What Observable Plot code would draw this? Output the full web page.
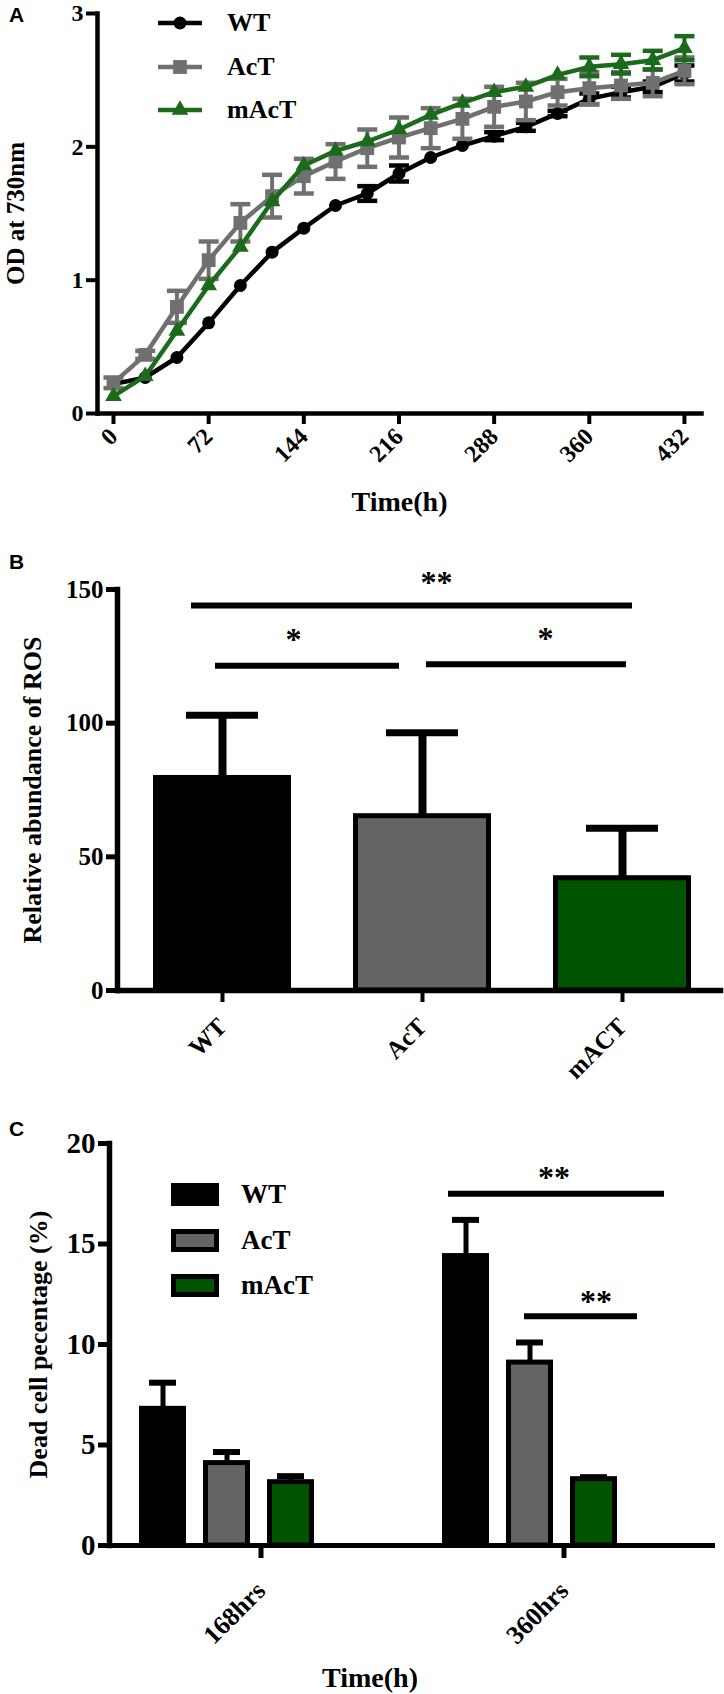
<!DOCTYPE html>
<html>
<head>
<meta charset="utf-8">
<script src="https://cdn.jsdelivr.net/npm/d3@7"></script>
<script src="https://cdn.jsdelivr.net/npm/@observablehq/plot@0.6"></script>
<style>
  body { margin: 0; background: #fff; }
  #fig { position: relative; width: 724px; height: 1694px; font-family: "Liberation Serif", "Times New Roman", serif; font-weight: bold; color: #000; }
  .panel { position: absolute; left: 0; }
  .tag { position: absolute; font-family: "Liberation Sans", Arial, sans-serif; font-weight: bold; font-size: 21px; line-height: 1; }
  .leg { position: absolute; white-space: nowrap; }
</style>
</head>
<body>
<div id="fig"></div>
<script>
// ---- panel A: growth curves (OD730) ----
const hours = [0, 24, 48, 72, 96, 120, 144, 168, 192, 216, 240, 264, 288, 312, 336, 360, 384, 408, 432];
const hourTicks = [0, 72, 144, 216, 288, 360, 432];
const strains = ["WT", "AcT", "mAcT"];
const wtOD   = [0.22, 0.27, 0.42, 0.68, 0.96, 1.21, 1.39, 1.56, 1.65, 1.80, 1.92, 2.01, 2.08, 2.15, 2.25, 2.36, 2.41, 2.45, 2.55];
const wtSD   = [0, 0, 0, 0, 0, 0, 0, 0, 0.055, 0.06, 0, 0, 0.03, 0.03, 0.02, 0.04, 0.04, 0.04, 0.06];
const actOD  = [0.23, 0.44, 0.80, 1.15, 1.43, 1.63, 1.78, 1.89, 1.99, 2.07, 2.14, 2.21, 2.30, 2.34, 2.41, 2.44, 2.46, 2.48, 2.57];
const actSD  = [0.04, 0.03, 0.12, 0.14, 0.14, 0.16, 0.13, 0.13, 0.14, 0.15, 0.15, 0.15, 0.15, 0.14, 0.10, 0.12, 0.10, 0.10, 0.10];
const mactOD = [0.13, 0.28, 0.62, 0.96, 1.25, 1.59, 1.86, 1.97, 2.04, 2.13, 2.24, 2.33, 2.41, 2.45, 2.54, 2.60, 2.62, 2.65, 2.74];
const mactSD = [0, 0, 0, 0, 0, 0, 0, 0, 0, 0, 0, 0, 0, 0, 0, 0.07, 0.07, 0.07, 0.09];

// ---- panel B: ROS ----
const rosStrains = ["WT", "AcT", "mACT"];
const rosMean = [79.5, 65.2, 42.0];
const rosSD = [23.5, 31.2, 18.7];
const rosSig = [
  {from: "WT", to: "mACT", y: 144, label: "**"},
  {from: "WT", to: "AcT", y: 121.5, label: "*"},
  {from: "AcT", to: "mACT", y: 122, label: "*"}
];

// ---- panel C: dead cells ----
const deadTimes = ["168hrs", "360hrs"];
const dead168 = [6.8, 4.1, 3.15];
const dead168SD = [1.3, 0.55, 0.3];
const dead360 = [14.4, 9.1, 3.3];
const dead360SD = [1.8, 1.0, 0.1];
const deadSig = [
  {time: "360hrs", from: "WT", to: "mAcT", y: 17.5, label: "**"},
  {time: "360hrs", from: "AcT", to: "mAcT", y: 11.4, label: "**"}
];

// styles
const serif = "'Liberation Serif', 'Times New Roman', serif";
const lineColors = ["#000000", "#707070", "#1b6b1b"];
const barFills = ["#000000", "#646464", "#005300"];
const markerSymbols = ["circle", "square", "triangle"];
const markerR = [6.5, 7.8, 6.2];
const baseStyle = {fontFamily: serif, fontWeight: "bold", color: "#000", background: "transparent", overflow: "visible"};

// horizontal error-bar cap, drawn as a dot symbol
const cap = {draw(ctx, size) { const r = Math.sqrt(size / Math.PI); ctx.moveTo(-r, 0); ctx.lineTo(r, 0); }};

const fig = d3.select("#fig");
function place(node, top) {
  fig.append("div").attr("class", "panel").style("top", top + "px").node().append(node);
}

// ---------- A ----------
const odSets = [wtOD, actOD, mactOD];
const sdSets = [wtSD, actSD, mactSD];
const growth = strains.map((s, k) => hours.map((t, i) => ({strain: s, t, od: odSets[k][i], sd: sdSets[k][i]})));

const chartA = Plot.plot({
  width: 724, height: 525,
  marginTop: 13, marginBottom: 112, marginLeft: 97, marginRight: 23,
  style: baseStyle,
  x: {domain: [-12.1, 444.9]},
  y: {domain: [0, 3]},
  marks: [
    ...growth.flatMap((rows, k) => {
      const c = lineColors[k];
      const err = rows.filter(d => d.sd > 0);
      return [
        Plot.ruleX(err, {x: "t", y1: d => d.od - d.sd, y2: d => d.od + d.sd, stroke: c, strokeWidth: 4}),
        Plot.dot(err, {x: "t", y: d => d.od - d.sd, symbol: cap, r: 10, stroke: c, strokeWidth: 4.5, fill: "none"}),
        Plot.dot(err, {x: "t", y: d => d.od + d.sd, symbol: cap, r: 10, stroke: c, strokeWidth: 4.5, fill: "none"}),
        Plot.line(rows, {x: "t", y: "od", stroke: c, strokeWidth: 4.5}),
        Plot.dot(rows, {x: "t", y: "od", symbol: markerSymbols[k], r: markerR[k], fill: c, stroke: "none"})
      ];
    }),
    Plot.frame({anchor: "left", strokeWidth: 4.5}),
    Plot.frame({anchor: "bottom", strokeWidth: 4.5}),
    Plot.axisY({ticks: [0, 1, 2, 3], tickFormat: d3.format("d"), tickSize: 11, tickPadding: 3, strokeWidth: 4, fontSize: 24, label: null}),
    Plot.axisX({ticks: hourTicks, tickFormat: d3.format("d"), tickSize: 11, tickPadding: 8, tickRotate: -45, strokeWidth: 4, fontSize: 24, label: null}),
    Plot.text(["Time(h)"], {frameAnchor: "bottom", dy: 89, lineAnchor: "middle", fontSize: 28}),
    Plot.text(["OD at 730nm"], {frameAnchor: "left", dx: -82, rotate: -90, textAnchor: "middle", lineAnchor: "middle", fontSize: 25})
  ]
});
place(chartA, 0);

// ---------- B ----------
const ros = rosStrains.map((strain, i) => ({strain, v: rosMean[i], e: rosSD[i]}));
function bracket(d, line, text, extra = {}) {
  return [
    Plot.ruleY([d], {x1: "from", x2: "to", y: "y", strokeWidth: 6, ...extra, ...line}),
    Plot.text([d], {x: "from", y: "y", text: "label", fontSize: 32, lineAnchor: "middle", ...extra, ...text})
  ];
}

const chartB = Plot.plot({
  width: 724, height: 560,
  marginTop: 64, marginBottom: 95, marginLeft: 117, marginRight: 4,
  style: baseStyle,
  x: {domain: rosStrains, paddingInner: 0.31, paddingOuter: 0.159, align: 0.55},
  y: {domain: [0, 150]},
  color: {domain: rosStrains, range: barFills},
  marks: [
    Plot.ruleX(ros, {x: "strain", y1: "v", y2: d => d.v + d.e, strokeWidth: 8}),
    Plot.tickY(ros, {x: "strain", y: d => d.v + d.e, inset: 33, strokeWidth: 7}),
    Plot.barY(ros, {x: "strain", y: "v", fill: "strain", stroke: "#000", strokeWidth: 5, insetLeft: 2.5, insetRight: 2.5}),
    Plot.frame({anchor: "left", strokeWidth: 5.5}),
    Plot.frame({anchor: "bottom", strokeWidth: 5.5}),
    Plot.axisY({ticks: [0, 50, 100, 150], tickSize: 11, tickPadding: 3, strokeWidth: 5, fontSize: 25, label: null}),
    Plot.axisX({tickSize: 12, tickPadding: 20, tickRotate: -45, strokeWidth: 4, fontSize: 25, label: null}),
    ...bracket(rosSig[0], {insetLeft: 38, insetRight: 59}, {dx: 214, dy: -23}),
    ...bracket(rosSig[1], {insetLeft: 62, insetRight: 92}, {dx: 71, dy: -26}),
    ...bracket(rosSig[2], {insetLeft: 73, insetRight: 65}, {dx: 123, dy: -26}),
    Plot.text(["Relative abundance of ROS"], {frameAnchor: "left", dx: -85, rotate: -90, textAnchor: "middle", lineAnchor: "middle", fontSize: 26})
  ]
});
place(chartB, 525);

// ---------- C ----------
const deadMeans = [dead168, dead360];
const deadSDs = [dead168SD, dead360SD];
const dead = deadTimes.flatMap((time, g) => strains.map((strain, k) => ({time, strain, v: deadMeans[g][k], e: deadSDs[g][k]})));

const chartC = Plot.plot({
  width: 724, height: 609,
  marginTop: 58, marginBottom: 149, marginLeft: 109, marginRight: 9,
  style: baseStyle,
  fx: {domain: deadTimes, paddingInner: 0, paddingOuter: 0, axis: null, label: null},
  x: {domain: strains, paddingInner: 0.271, paddingOuter: 0.984, align: 0.235, axis: null},
  y: {domain: [0, 20], axis: null},
  color: {domain: strains, range: barFills},
  marks: [
    Plot.ruleX(dead, {fx: "time", x: "strain", y1: "v", y2: d => d.v + d.e, strokeWidth: 5}),
    Plot.tickY(dead, {fx: "time", x: "strain", y: d => d.v + d.e, inset: 10, strokeWidth: 6}),
    Plot.barY(dead, {fx: "time", x: "strain", y: "v", fill: "strain", stroke: "#000", strokeWidth: 5, insetLeft: 2.5, insetRight: 2.5}),
    Plot.ruleY([0], {strokeWidth: 5}),
    Plot.frame({anchor: "left", facetAnchor: "left", strokeWidth: 5.5}),
    Plot.axisY({ticks: [0, 5, 10, 15, 20], tickSize: 11, tickPadding: 3, strokeWidth: 5, fontSize: 29, label: null}),
    Plot.axisFx({anchor: "bottom", tickSize: 13, tickPadding: 28, tickRotate: -45, strokeWidth: 5, fontSize: 26, label: null}),
    ...bracket(deadSig[0], {insetLeft: 6, insetRight: -47}, {dx: 88, dy: -16}, {fx: "time"}),
    ...bracket(deadSig[1], {insetLeft: 18, insetRight: -20}, {dx: 66, dy: -15}, {fx: "time"}),
    Plot.text(["Time(h)"], {frameAnchor: "bottom", facetAnchor: "left", dx: 109, dy: 133, lineAnchor: "middle", fontSize: 28}),
    Plot.text(["Dead cell pecentage (%)"], {frameAnchor: "left", facetAnchor: "left", dx: -71, rotate: -90, textAnchor: "middle", lineAnchor: "middle", fontSize: 26})
  ]
});
place(chartC, 1085);

// ---------- legends & panel tags ----------
strains.forEach((s, k) => {
  const top = 8 + k * 43.5;
  const item = fig.append("div").attr("class", "leg").style("left", "155px").style("top", top + "px");
  const svg = item.append("svg").attr("width", 50).attr("height", 30).style("vertical-align", "top");
  svg.append("line").attr("x1", 3).attr("x2", 47).attr("y1", 15).attr("y2", 15)
    .attr("stroke", lineColors[k]).attr("stroke-width", 4.5);
  const sym = {circle: d3.symbolCircle, square: d3.symbolSquare, triangle: d3.symbolTriangle}[markerSymbols[k]];
  svg.append("path").attr("transform", "translate(25,15)")
    .attr("d", d3.symbol(sym, markerR[k] * markerR[k] * Math.PI)()).attr("fill", lineColors[k]);
  fig.append("div").attr("class", "leg").style("left", "227px").style("top", top + "px")
    .style("font-size", "26px").style("line-height", "30px").text(s);
});

strains.forEach((s, k) => {
  const top = 1183 + k * 45.5;
  fig.append("div").attr("class", "leg").style("left", "171px").style("top", top + "px")
    .style("width", "48px").style("height", "23px").style("box-sizing", "border-box")
    .style("border", "5px solid #000").style("background", barFills[k]);
  fig.append("div").attr("class", "leg").style("left", "241px").style("top", (top - 4) + "px")
    .style("font-size", "27px").style("line-height", "31px").text(s);
});

[["A", 4], ["B", 551], ["C", 1118]].forEach(([t, top]) => {
  fig.append("div").attr("class", "tag").style("left", "9px").style("top", top + "px").text(t);
});
</script>
</body>
</html>
